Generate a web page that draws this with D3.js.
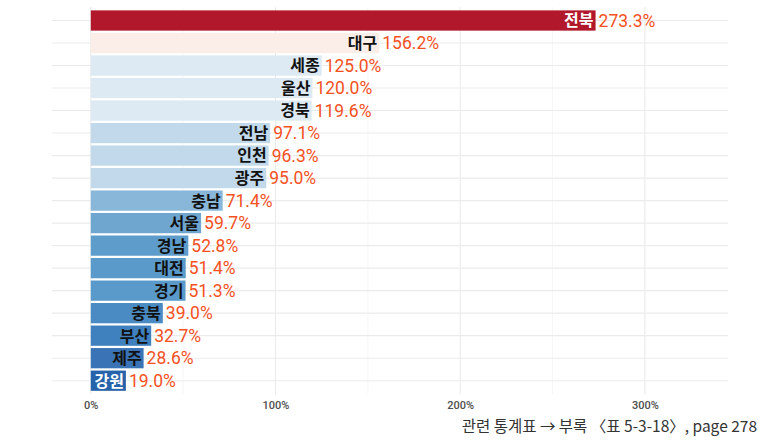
<!DOCTYPE html>
<html><head><meta charset="utf-8">
<script src="https://cdn.jsdelivr.net/npm/d3@7"></script>
<style>body{margin:0;background:#fff}svg{display:block}</style>
</head><body>
<script>
const regions = ["전북","대구","세종","울산","경북","전남","인천","광주","충남","서울","경남","대전","경기","충북","부산","제주","강원"];
const values = [273.3,156.2,125.0,120.0,119.6,97.1,96.3,95.0,71.4,59.7,52.8,51.4,51.3,39.0,32.7,28.6,19.0];
const xTicks = [0,100,200,300];
const xMinor = [50,150,250];
const caption = "관련 통계표 → 부록 〈표 5-3-18〉, page 278";

const W = 764, H = 441;
const svg = d3.select("body").append("svg").attr("width", W).attr("height", H);

const panel = {left: 52, right: 728, top: 7, bottom: 394.2};
const x = d3.scaleLinear().domain([-21, 345]).range([panel.left, panel.right]);
const y = d3.scaleBand().domain(regions).range([panel.top, panel.bottom])
  .paddingInner(0.1).paddingOuter(0.15);

const fill = d3.scaleThreshold()
  .domain([25, 30, 35, 45, 52, 55, 65, 80, 110, 140, 200])
  .range(["#2763aa","#3a74b6","#3f80be","#4a8bc3","#5a9acb","#5e9ccc","#6ea6d0","#88b7d9","#c1d9eb","#dde9f3","#fbeee9","#b2182b"]);

const data = regions.map((r, i) => ({region: r, value: values[i]}));

// grid
const g = svg.append("g");
g.selectAll("line.minor").data(xMinor).join("line")
  .attr("x1", d => x(d)).attr("x2", d => x(d))
  .attr("y1", panel.top).attr("y2", panel.bottom)
  .attr("stroke", "#f2f2f2").attr("stroke-width", 0.6);
g.selectAll("line.major").data(xTicks).join("line")
  .attr("x1", d => x(d)).attr("x2", d => x(d))
  .attr("y1", panel.top).attr("y2", panel.bottom)
  .attr("stroke", "#ebebeb").attr("stroke-width", 1.1);
g.selectAll("line.hy").data(regions).join("line")
  .attr("x1", panel.left).attr("x2", panel.right)
  .attr("y1", d => y(d) + y.bandwidth()/2).attr("y2", d => y(d) + y.bandwidth()/2)
  .attr("stroke", "#ebebeb").attr("stroke-width", 1.1);

// bars
svg.append("g").selectAll("rect").data(data).join("rect")
  .attr("x", x(0)).attr("y", d => y(d.region))
  .attr("width", d => x(d.value) - x(0)).attr("height", y.bandwidth())
  .attr("fill", d => fill(d.value));

// region labels
svg.append("g").selectAll("text").data(data).join("text")
  .attr("x", d => x(d.value) - 2)
  .attr("y", d => y(d.region) + y.bandwidth()/2)
  .attr("dy", "0.37em")
  .attr("text-anchor", "end")
  .attr("font-family", "'Noto Sans CJK KR', sans-serif")
  .attr("font-weight", "bold")
  .attr("font-size", 16)
  .attr("fill", d => (d.value > 200 || d.value < 25) ? "#ffffff" : "#111111")
  .text(d => d.region);

// value labels
svg.append("g").selectAll("text").data(data).join("text")
  .attr("x", d => x(d.value) + 3)
  .attr("y", d => y(d.region) + y.bandwidth()/2)
  .attr("dy", "0.36em")
  .attr("font-family", "Roboto, 'Noto Sans', sans-serif")
  .attr("font-weight", 400)
  .attr("font-size", 17.5)
  .attr("fill", "#f4511e")
  .text(d => d.value.toFixed(1) + "%");

// x axis
const xAxis = d3.axisBottom(x).tickValues(xTicks).tickFormat(d => d + "%").tickSize(0).tickPadding(7);
const ax = svg.append("g").attr("transform", `translate(0,${panel.bottom})`).call(xAxis);
ax.select(".domain").remove();
ax.selectAll("text").attr("font-family", "Roboto, 'Noto Sans', sans-serif")
  .attr("font-size", 11).attr("font-weight", 500).attr("fill", "#4d4d4d");

// caption
svg.append("text").attr("x", 757).attr("y", 432).attr("text-anchor", "end")
  .attr("font-family", "'Noto Sans CJK KR', sans-serif").attr("font-size", 15.5)
  .attr("fill", "#333").text(caption);
</script>
</body></html>
